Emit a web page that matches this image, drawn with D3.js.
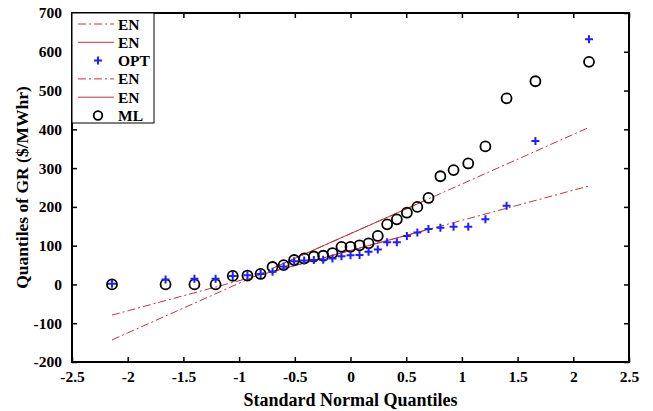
<!DOCTYPE html>
<html>
<head>
<meta charset="utf-8">
<script src="https://cdn.jsdelivr.net/npm/d3@7"></script>
<style>
  body { margin: 0; background: #fff; }
  svg text { font-family: "Liberation Serif", "Times New Roman", serif; font-weight: bold; fill: #000; }
</style>
</head>
<body>
<div id="chart"></div>
<script>
// standard normal quantiles of the 31 samples
var normQ = [-2.141, -1.660, -1.401, -1.211, -1.057, -0.925, -0.807, -0.700, -0.600, -0.506,
             -0.416, -0.329, -0.245, -0.162, -0.081, 0, 0.081, 0.162, 0.245, 0.329,
             0.416, 0.506, 0.600, 0.700, 0.807, 0.925, 1.057, 1.211, 1.401, 1.660, 2.141];
// sorted GR values ($/MWhr)
var optValues = [2, 13, 15, 15, 22, 24, 27, 33, 46, 60, 62, 63, 64, 67, 73, 75, 76, 84, 90, 109,
                 109, 125, 134, 143, 146, 149, 149, 168, 203, 370, 632];
var mlValues = [0, 0, 0, 0, 22, 23, 27, 45, 50, 63, 67, 72, 74, 81, 97, 97, 101, 106, 125, 155,
                168, 185, 200, 223, 279, 295, 312, 356, 480, 524, 574];
// reference lines: [min, q1, q3, max] points
var optLine = [[-2.141, -79], [-0.674, 35], [0.674, 140], [2.141, 254]];
var mlLine = [[-2.141, -143], [-0.674, 45], [0.674, 217], [2.141, 405]];
var legendLabels = ["EN", "EN", "OPT", "EN", "EN", "ML"];
var xTicks = [-2.5, -2, -1.5, -1, -0.5, 0, 0.5, 1, 1.5, 2, 2.5];
var yTicks = [-200, -100, 0, 100, 200, 300, 400, 500, 600, 700];

var w = 653, h = 411;
var pLeft = 72, pRight = 629, pTop = 13, pBottom = 362;
var lineColor = "#c8323c";

var svg = d3.select("#chart").append("svg")
    .attr("width", w)
    .attr("height", h);

var x = d3.scaleLinear().domain([-2.5, 2.5]).range([pLeft, pRight]);
var y = d3.scaleLinear().domain([-200, 700]).range([pBottom, pTop]);

function fmt(d) { return String(d); }

// axes with inward ticks
var gx = svg.append("g")
    .attr("transform", "translate(0," + pBottom + ")")
    .call(d3.axisBottom(x).tickValues(xTicks).tickFormat(fmt).tickSizeInner(-5).tickSizeOuter(0).tickPadding(9));
var gxTop = svg.append("g")
    .attr("transform", "translate(0," + pTop + ")")
    .call(d3.axisTop(x).tickValues(xTicks).tickFormat("").tickSizeInner(-5).tickSizeOuter(0));
var gy = svg.append("g")
    .attr("transform", "translate(" + pLeft + ",0)")
    .call(d3.axisLeft(y).tickValues(yTicks).tickFormat(fmt).tickSizeInner(-5).tickSizeOuter(0).tickPadding(10));
var gyRight = svg.append("g")
    .attr("transform", "translate(" + pRight + ",0)")
    .call(d3.axisRight(y).tickValues(yTicks).tickFormat("").tickSizeInner(-5).tickSizeOuter(0));

[gx, gxTop, gy, gyRight].forEach(function(g) {
    g.select(".domain").remove();
    g.selectAll(".tick line").attr("stroke", "#000").attr("stroke-width", 1.5);
    g.selectAll("text").attr("font-size", 15.5).attr("font-family", null);
});

// reference lines
var line = d3.line()
    .x(function(d) { return x(d[0]); })
    .y(function(d) { return y(d[1]); });

[mlLine, optLine].forEach(function(pts) {
    svg.append("path")
        .attr("d", line([pts[0], pts[3]]))
        .attr("fill", "none")
        .attr("stroke", lineColor)
        .attr("stroke-width", 1)
        .attr("stroke-dasharray", "8,3,2,3");
    svg.append("path")
        .attr("d", line([pts[1], pts[2]]))
        .attr("fill", "none")
        .attr("stroke", lineColor)
        .attr("stroke-width", 1);
});

// ML circles
svg.append("g").selectAll("circle")
    .data(mlValues)
    .enter().append("circle")
    .attr("cx", function(d, i) { return x(normQ[i]); })
    .attr("cy", function(d) { return y(d); })
    .attr("r", 5)
    .attr("fill", "none")
    .attr("stroke", "#000")
    .attr("stroke-width", 1.8);

// OPT plus markers
function plusPath(s) {
    return "M" + (-s) + ",0H" + s + "M0," + (-s) + "V" + s;
}
svg.append("g").selectAll("path")
    .data(optValues)
    .enter().append("path")
    .attr("transform", function(d, i) { return "translate(" + x(normQ[i]) + "," + y(d) + ")"; })
    .attr("d", plusPath(4))
    .attr("fill", "none")
    .attr("stroke", "#1f1fff")
    .attr("stroke-width", 2);

// frame
svg.append("rect")
    .attr("x", pLeft)
    .attr("y", pTop)
    .attr("width", pRight - pLeft)
    .attr("height", pBottom - pTop)
    .attr("fill", "none")
    .attr("stroke", "#000")
    .attr("stroke-width", 2);

// axis labels
svg.append("text")
    .attr("x", (pLeft + pRight) / 2)
    .attr("y", 406)
    .attr("text-anchor", "middle")
    .attr("font-size", 18)
    .text("Standard Normal Quantiles");
svg.append("text")
    .attr("transform", "translate(28," + (pTop + pBottom) / 2 + ") rotate(-90)")
    .attr("text-anchor", "middle")
    .attr("font-size", 17.5)
    .text("Quantiles of GR ($/MWhr)");

// legend
var lg = svg.append("g");
lg.append("rect")
    .attr("x", pLeft)
    .attr("y", pTop)
    .attr("width", 82)
    .attr("height", 110)
    .attr("fill", "#fff")
    .attr("stroke", "#000")
    .attr("stroke-width", 1);
var kinds = ["dashdot", "solid", "plus", "dashdot", "solid", "circle"];
legendLabels.forEach(function(label, i) {
    var ry = 24 + i * 18.3;
    var k = kinds[i];
    if (k == "dashdot" || k == "solid") {
        lg.append("line")
            .attr("x1", 78).attr("x2", 114)
            .attr("y1", ry).attr("y2", ry)
            .attr("stroke", lineColor)
            .attr("stroke-width", 1)
            .attr("stroke-dasharray", k == "dashdot" ? "8,3,2,3" : null);
    } else if (k == "plus") {
        lg.append("path")
            .attr("transform", "translate(98," + ry + ")")
            .attr("d", plusPath(4))
            .attr("stroke", "#1f1fff")
            .attr("stroke-width", 2);
    } else {
        lg.append("circle")
            .attr("cx", 98).attr("cy", ry).attr("r", 4.3)
            .attr("fill", "none")
            .attr("stroke", "#000")
            .attr("stroke-width", 1.8);
    }
    lg.append("text")
        .attr("x", 118)
        .attr("y", ry + 5.5)
        .attr("font-size", 15.5)
        .text(label);
});
</script>
</body>
</html>
